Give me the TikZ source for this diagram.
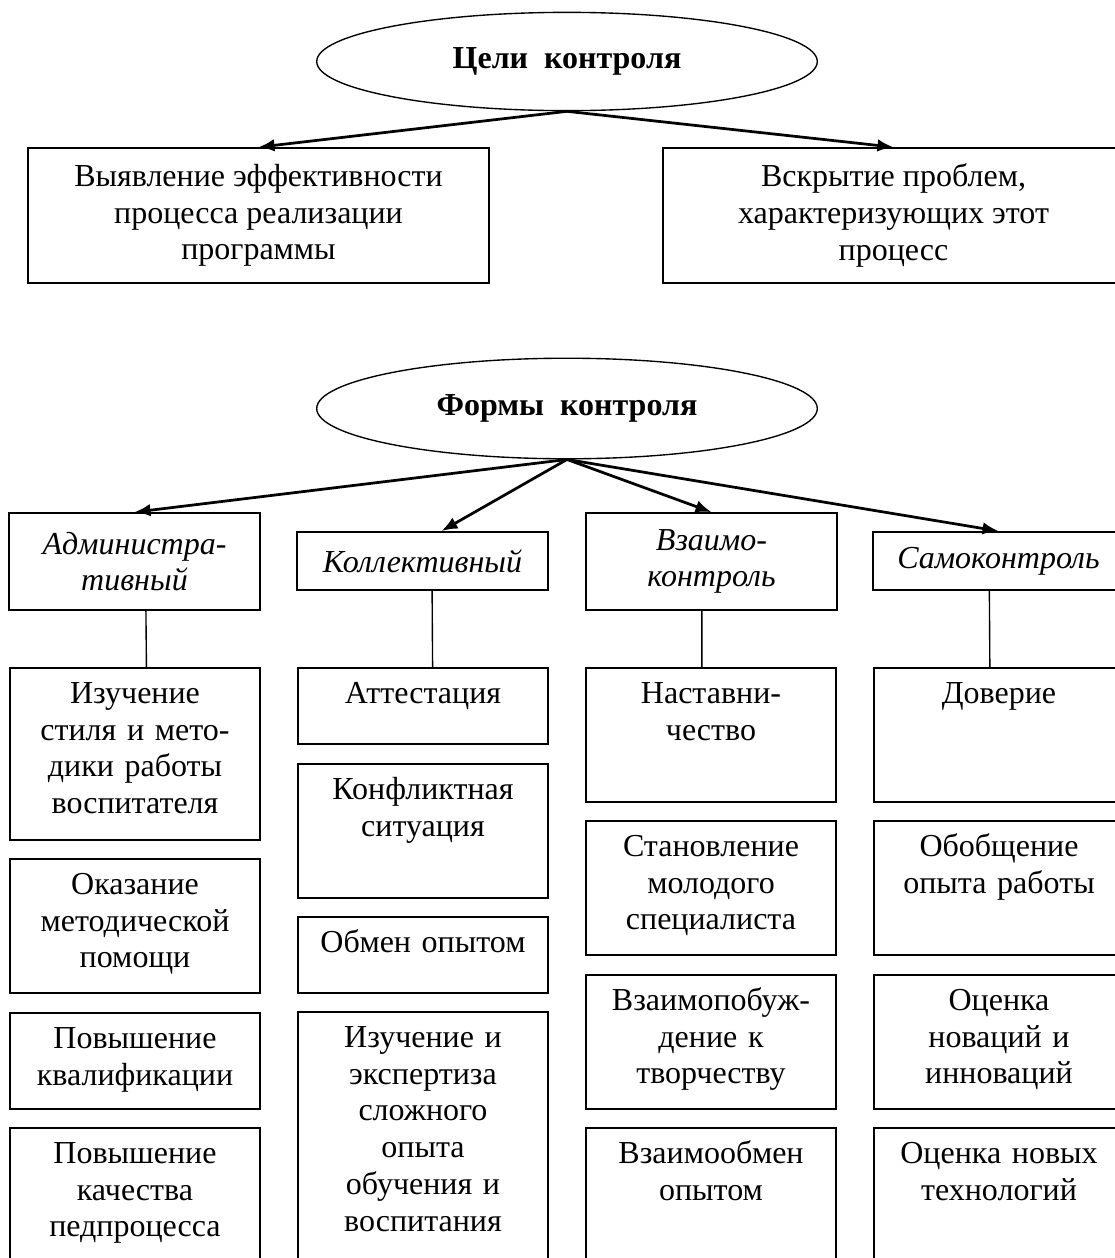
\documentclass[tikz,border=0pt]{standalone}
\usepackage{fontspec}
\setmainfont{Liberation Serif}
\usetikzlibrary{arrows.meta,shapes.geometric}
\newcommand{\txt}{\fontsize{14}{16.1}\selectfont}

\begin{document}
\begin{tikzpicture}[>={Latex[length=7pt,width=5.5pt]},x=0.4375pt,y=-0.4375pt,
  goal/.style={ellipse,draw,line width=0.6pt,minimum width=219pt,minimum height=43pt,inner sep=0pt,font=\txt\bfseries},
  aim/.style={draw,line width=0.8pt,minimum width=201.7pt,minimum height=59pt,align=center,font=\txt},
  form/.style={draw,line width=0.8pt,minimum width=109.6pt,align=center,font=\txt\itshape},
  item/.style={draw,line width=0.8pt,anchor=north,text width=101pt,inner xsep=4.3pt,inner ysep=5pt,
    text height=10.5pt,text depth=#1,align=center,font=\txt},
  arr/.style={->,line width=1.2pt},
  link/.style={line width=0.6pt}]
  \useasboundingbox (0,0) rectangle (1115,1258);
  % goals of control
  \node[goal] (goal) at (567,61.5) {Цели~ контроля};
  \node[aim] (aim1) at (258.5,215.5) {Выявление эффективности\\процесса реализации\\программы};
  \node[aim] (aim2) at (893.5,215.5) {Вскрытие проблем,\\характеризующих этот\\процесс};
  \draw[arr] (goal.south) -- (aim1.north);
  \draw[arr] (goal.south) -- (aim2.north);

  % forms of control
  \node[goal,minimum height=44pt] (forms) at (567,408.5) {Формы~ контроля};
  \node[form,minimum height=42.4pt] (adm) at (134.5,561.5) {Администра-\\тивный};
  \node[form,minimum height=25.4pt] (kol) at (422.5,561) {Коллективный};
  \node[form,minimum height=42.4pt] (vz) at (711.5,561.5) {Взаимо-\\контроль};
  \node[form,minimum height=25.4pt] (sam) at (998.5,561) {Самоконтроль};
  \draw[arr] (forms.south) -- (adm.north);
  \draw[arr] (forms.south) -- ([xshift=8.3pt]kol.north);
  \draw[arr] (forms.south) -- (vz.north);
  \draw[arr] (forms.south) -- (sam.north);

  % column 1
  \node[item=54.75pt] (adm1) at (135,667) {Изучение\\стиля и мето-\\дики работы\\воспитателя};
  \node[item=38.1pt] (adm2) at (135,858) {Оказание\\методической\\помощи};
  \node[item=21.5pt] (adm3) at (135,1012) {Повышение\\квалификации};
  \node[item=42pt] (adm4) at (135,1127) {Повышение\\качества\\педпроцесса};
  % column 2
  \node[item=12.75pt] (kol1) at (423,667) {Аттестация};
  \node[item=38.1pt] (kol2) at (423,763) {Конфликтная\\ситуация};
  \node[item=12.75pt] (kol3) at (423,916) {Обмен опытом};
  \node[item=92.8pt] (kol4) at (423,1011) {Изучение и\\экспертиза\\сложного\\опыта\\обучения и\\воспитания};
  % column 3
  \node[item=38.1pt] (vz1) at (711,667) {Наставни-\\чество};
  \node[item=38.1pt] (vz2) at (711,820) {Становление\\молодого\\специалиста};
  \node[item=38.1pt] (vz3) at (711,974) {Взаимопобуж-\\дение к\\творчеству};
  \node[item=42pt] (vz4) at (711,1127) {Взаимообмен\\опытом};
  % column 4
  \node[item=38.1pt] (sam1) at (999,667) {Доверие};
  \node[item=38.1pt] (sam2) at (999,820) {Обобщение\\опыта работы};
  \node[item=38.1pt] (sam3) at (999,974) {Оценка\\новаций и\\инноваций};
  \node[item=42pt] (sam4) at (999,1127) {Оценка новых\\технологий};

  \draw[link] ([xshift=5pt]adm.south) -- ([xshift=5pt]adm1.north);
  \draw[link] ([xshift=4.2pt]kol.south) -- ([xshift=4.2pt]kol1.north);
  \draw[link] ([xshift=-4.2pt]vz.south) -- ([xshift=-4pt]vz1.north);
  \draw[link] ([xshift=-4pt]sam.south) -- ([xshift=-4pt]sam1.north);
\end{tikzpicture}
\end{document}
